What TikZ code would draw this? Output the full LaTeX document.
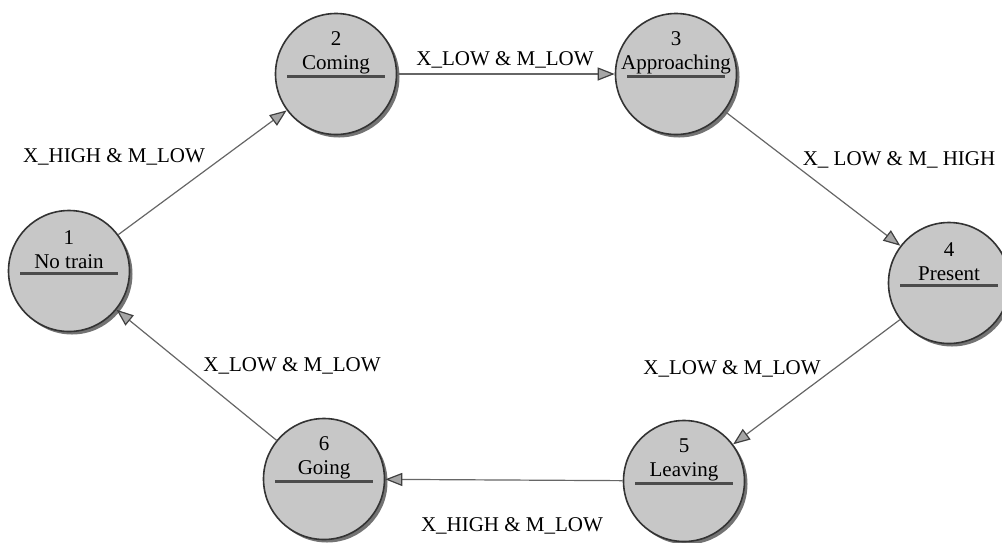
\documentclass[tikz,border=0pt]{standalone}
\usepackage{fontspec}
\setmainfont{Liberation Serif}
\usetikzlibrary{arrows.meta,shadows}

\tikzset{
    state/.style={circle, draw=black!80, fill=black!22, line width=1.6pt, minimum size=121pt, inner sep=0pt,
        drop shadow={shadow xshift=3pt, shadow yshift=-3pt, fill=black!55, opacity=1}},
    statetext/.style={align=center, font=\fontsize{21}{24}\selectfont},
    stateline/.style={draw=black!70, line width=3pt},
    trans/.style={draw=black!60, line width=1.2pt, -{Triangle[length=17pt, width=13pt, color=black!75, fill=black!35]}},
    translabel/.style={font=\fontsize{21}{24}\selectfont, inner sep=0pt}
}

\begin{document}
\begin{tikzpicture}[x=1pt, y=-1pt]
                    \useasboundingbox (0,0) rectangle (1002,542);

                    \node[state] (N1) at (69, 271) {};
                    \node[state] (N2) at (336, 74) {};
                    \node[state] (N3) at (676, 74) {};
                    \node[state] (N4) at (949, 283) {};
                    \node[state] (N5) at (684, 481) {};
                    \node[state] (N6) at (324, 479) {};

                    \node[statetext] (T1) at ([yshift=21pt]N1) {1\\No train};
                    \node[statetext] (T2) at ([yshift=21pt]N2) {2\\Coming};
                    \node[statetext] (T3) at ([yshift=21pt]N3) {3\\Approaching};
                    \node[statetext] (T4) at ([yshift=21pt]N4) {4\\Present};
                    \node[statetext] (T5) at ([yshift=21pt]N5) {5\\Leaving};
                    \node[statetext] (T6) at ([yshift=21pt]N6) {6\\Going};

                    \draw[stateline] ([shift={(-49,2)}]N1.center) -- ([shift={(49,2)}]N1.center);
                    \draw[stateline] ([shift={(-49,2)}]N2.center) -- ([shift={(49,2)}]N2.center);
                    \draw[stateline] ([shift={(-49,2)}]N3.center) -- ([shift={(49,2)}]N3.center);
                    \draw[stateline] ([shift={(-49,2)}]N4.center) -- ([shift={(49,2)}]N4.center);
                    \draw[stateline] ([shift={(-49,2)}]N5.center) -- ([shift={(49,2)}]N5.center);
                    \draw[stateline] ([shift={(-49,2)}]N6.center) -- ([shift={(49,2)}]N6.center);

                    \draw[trans] (N1) -- (N2);
                    \draw[trans] (N2) -- (N3);
                    \draw[trans] (N3) -- (N4);
                    \draw[trans] (N4) -- (N5);
                    \draw[trans] (N5) -- (N6);
                    \draw[trans] (N6) -- (N1);

                    \node[translabel] (L12) at (114, 157) {X\_HIGH \& M\_LOW};
                    \node[translabel] (L23) at (505, 60) {X\_LOW \& M\_LOW};
                    \node[translabel] (L34) at (899, 160) {X\_ LOW \& M\_ HIGH};
                    \node[translabel] (L45) at (732, 369) {X\_LOW \& M\_LOW};
                    \node[translabel] (L56) at (512, 526) {X\_HIGH \& M\_LOW};
                    \node[translabel] (L61) at (292, 366) {X\_LOW \& M\_LOW};

                \end{tikzpicture}
\end{document}
